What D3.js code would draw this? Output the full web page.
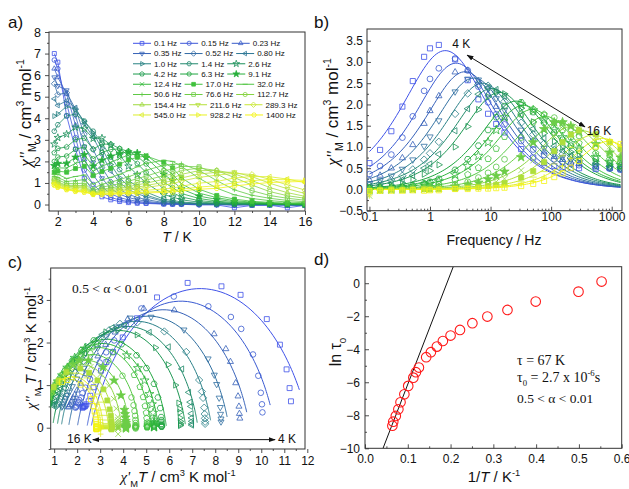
<!DOCTYPE html>
<html>
<head>
<meta charset="utf-8">
<script src="https://cdn.jsdelivr.net/npm/d3@7"></script>
<style>
  body { margin: 0; background: #fff; }
  svg text { font-family: "Liberation Sans", Arial, sans-serif; fill: #111; }
  svg text.serif { font-family: "Liberation Serif", "Times New Roman", serif; }
</style>
</head>
<body>
<svg width="629" height="489"></svg>
<script>
// ---------- data ----------
const freqs = [0.1, 0.15, 0.23, 0.35, 0.52, 0.80, 1.0, 1.4, 2.6, 4.2, 6.3, 9.1, 12.4, 17.0, 32.0, 50.6, 76.6, 112.7, 154.4, 211.6, 289.3, 545.0, 928.2, 1400];
const freqLabels = ["0.1 Hz", "0.15 Hz", "0.23 Hz", "0.35 Hz", "0.52 Hz", "0.80 Hz", "1.0 Hz", "1.4 Hz", "2.6 Hz",
  "4.2 Hz", "6.3 Hz", "9.1 Hz", "12.4 Hz", "17.0 Hz", "32.0 Hz", "50.6 Hz", "76.6 Hz", "112.7 Hz",
  "154.4 Hz", "211.6 Hz", "289.3 Hz", "545.0 Hz", "928.2 Hz", "1400 Hz"];
const temps = [1.8, 2, 2.5, 3, 3.5, 4, 4.5, 5, 5.5, 6, 6.5, 7, 8, 8.5, 9, 10, 11, 12, 13, 14, 15, 16];

// chi'' (cm3/mol), one row per temperature, one column per frequency
const chi2 = [
  [7.0, 6.7, 6.3, 5.9, 5.6, 4.9, 4.1, 3.4, 2.8, 2.4, 2.0, 1.8, 1.65, 1.5, 1.4, 1.3, 1.22, 1.15, 1.1, 1.05, 1.0, 0.97, 0.93, 0.9],
  [6.6, 6.3, 5.9, 5.5, 5.1, 4.6, 4.2, 3.7, 3.1, 2.6, 2.2, 1.9, 1.7, 1.55, 1.4, 1.25, 1.15, 1.05, 1.0, 0.95, 0.9, 0.85, 0.82, 0.8],
  [4.11, 4.68, 5.13, 5.30, 5.18, 4.81, 4.55, 4.11, 3.26, 2.67, 2.25, 1.91, 1.69, 1.50, 1.21, 1.07, 0.97, 0.89, 0.85, 0.81, 0.78, 0.73, 0.71, 0.69],
  [2.57, 3.10, 3.68, 4.13, 4.43, 4.49, 4.41, 4.19, 3.58, 3.01, 2.56, 2.19, 1.91, 1.67, 1.30, 1.11, 0.97, 0.89, 0.83, 0.80, 0.73, 0.66, 0.63, 0.61],
  [1.22, 1.60, 2.09, 2.69, 3.26, 3.75, 3.86, 3.87, 3.52, 3.08, 2.67, 2.31, 2.03, 1.78, 1.37, 1.15, 0.99, 0.88, 0.82, 0.76, 0.70, 0.64, 0.59, 0.57],
  [0.62, 0.93, 1.37, 1.95, 2.55, 3.12, 3.32, 3.40, 3.06, 2.57, 2.12, 1.78, 1.54, 1.34, 0.95, 0.75, 0.62, 0.55, 0.52, 0.50, 0.50, 0.48, 0.50, 0.47],
  [0.36, 0.55, 0.82, 1.22, 1.72, 2.32, 2.60, 2.85, 3.08, 2.80, 2.42, 2.05, 1.77, 1.53, 1.14, 0.94, 0.81, 0.71, 0.65, 0.60, 0.57, 0.52, 0.49, 0.47],
  [0.22, 0.33, 0.50, 0.74, 1.05, 1.55, 1.85, 2.20, 2.76, 2.80, 2.55, 2.24, 1.95, 1.68, 1.26, 1.04, 0.88, 0.77, 0.70, 0.64, 0.60, 0.54, 0.50, 0.48],
  [0.14, 0.21, 0.32, 0.48, 0.70, 1.02, 1.24, 1.62, 2.30, 2.60, 2.58, 2.37, 2.14, 1.87, 1.40, 1.15, 0.97, 0.84, 0.76, 0.69, 0.63, 0.56, 0.51, 0.49],
  [0.09, 0.14, 0.22, 0.32, 0.47, 0.70, 0.85, 1.12, 1.78, 2.26, 2.47, 2.44, 2.29, 2.07, 1.57, 1.29, 1.08, 0.93, 0.83, 0.74, 0.68, 0.58, 0.54, 0.51],
  [0.06, 0.09, 0.15, 0.23, 0.33, 0.50, 0.60, 0.83, 1.38, 1.90, 2.24, 2.39, 2.35, 2.19, 1.75, 1.43, 1.20, 1.02, 0.91, 0.80, 0.73, 0.62, 0.55, 0.52],
  [0.05, 0.07, 0.10, 0.15, 0.23, 0.36, 0.44, 0.58, 1.00, 1.48, 1.88, 2.18, 2.29, 2.25, 1.91, 1.59, 1.32, 1.13, 0.99, 0.88, 0.79, 0.66, 0.58, 0.54],
  [0.02, 0.03, 0.04, 0.06, 0.09, 0.14, 0.18, 0.25, 0.46, 0.71, 1.03, 1.40, 1.70, 1.96, 2.05, 1.82, 1.57, 1.34, 1.17, 1.03, 0.91, 0.72, 0.62, 0.56],
  [0.01, 0.02, 0.03, 0.05, 0.07, 0.11, 0.13, 0.19, 0.35, 0.55, 0.79, 1.11, 1.40, 1.70, 2.00, 1.86, 1.64, 1.41, 1.23, 1.09, 0.96, 0.76, 0.65, 0.58],
  [0.01, 0.01, 0.02, 0.03, 0.04, 0.06, 0.08, 0.12, 0.22, 0.35, 0.51, 0.72, 0.96, 1.24, 1.77, 1.89, 1.77, 1.58, 1.40, 1.23, 1.09, 0.85, 0.71, 0.63],
  [0.00, -0.02, 0.01, 0.01, 0.02, 0.04, 0.04, 0.06, 0.11, 0.18, 0.28, 0.39, 0.53, 0.71, 1.22, 1.58, 1.75, 1.69, 1.57, 1.42, 1.26, 0.99, 0.81, 0.71],
  [-0.02, 0.00, 0.00, 0.01, 0.01, 0.02, 0.03, 0.04, 0.07, 0.11, 0.16, 0.24, 0.32, 0.42, 0.76, 1.11, 1.42, 1.58, 1.58, 1.49, 1.36, 1.07, 0.87, 0.75],
  [-0.15, -0.03, 0.00, -0.02, 0.01, 0.01, 0.01, 0.02, 0.04, 0.06, 0.09, 0.13, 0.18, 0.25, 0.45, 0.68, 0.98, 1.25, 1.43, 1.50, 1.45, 1.23, 1.01, 0.86],
  [-0.04, -0.02, 0.00, -0.01, 0.00, 0.01, 0.00, 0.01, 0.02, 0.04, 0.06, 0.08, 0.11, 0.15, 0.28, 0.43, 0.64, 0.90, 1.11, 1.29, 1.39, 1.30, 1.11, 0.95],
  [-0.03, -0.02, -0.01, 0.00, -0.01, 0.00, 0.01, 0.01, 0.02, 0.02, 0.04, 0.05, 0.07, 0.10, 0.18, 0.29, 0.42, 0.60, 0.79, 0.99, 1.17, 1.29, 1.16, 1.02],
  [-0.15, -0.03, -0.02, -0.01, 0.00, -0.01, 0.00, 0.00, 0.01, 0.02, 0.02, 0.03, 0.05, 0.06, 0.12, 0.19, 0.29, 0.41, 0.55, 0.73, 0.91, 1.18, 1.15, 1.05],
  [-0.04, -0.03, -0.03, -0.03, -0.02, -0.03, -0.02, -0.02, 0.01, 0.01, 0.02, 0.02, 0.03, 0.04, 0.08, 0.13, 0.20, 0.29, 0.38, 0.51, 0.67, 1.01, 1.12, 1.07]
];

// temperatures shown in panels b and c (4 K .. 16 K)
const fitTemps = [4, 4.5, 5, 5.5, 6, 6.5, 7, 8, 8.5, 9, 10, 11, 12, 13, 14, 15, 16];

// chi' (cm3/mol) for the 4 K .. 16 K rows, one column per frequency
const chi1 = [
  [11.29, 11.23, 11.10, 10.81, 10.24, 9.10, 8.27, 6.80, 5.47, 4.60, 3.98, 3.56, 3.27, 3.04, 2.71, 2.57, 2.50, 2.40, 2.36, 2.33, 2.30, 2.25, 2.24, 2.23],
  [10.05, 10.03, 9.98, 9.87, 9.64, 9.13, 8.68, 7.70, 6.20, 4.79, 4.11, 3.61, 3.26, 2.98, 2.56, 2.36, 2.23, 2.18, 2.09, 2.05, 2.03, 1.98, 1.95, 1.93],
  [9.07, 9.05, 9.03, 8.99, 8.89, 8.66, 8.46, 7.95, 6.22, 4.89, 4.20, 3.65, 3.24, 2.90, 2.40, 2.15, 2.00, 1.89, 1.83, 1.77, 1.74, 1.68, 1.64, 1.62],
  [8.25, 8.25, 8.23, 8.22, 8.17, 8.06, 7.96, 7.69, 6.64, 5.21, 4.31, 3.71, 3.27, 2.89, 2.29, 1.99, 1.79, 1.66, 1.58, 1.51, 1.47, 1.40, 1.36, 1.33],
  [7.56, 7.56, 7.55, 7.54, 7.52, 7.47, 7.42, 7.30, 6.74, 5.79, 4.61, 3.86, 3.39, 2.96, 2.27, 1.91, 1.67, 1.49, 1.39, 1.31, 1.25, 1.16, 1.12, 1.09],
  [6.98, 6.98, 6.98, 6.97, 6.96, 6.94, 6.91, 6.85, 6.55, 5.97, 5.14, 4.06, 3.53, 3.09, 2.33, 1.91, 1.63, 1.43, 1.30, 1.21, 1.14, 1.03, 0.97, 0.94],
  [6.48, 6.48, 6.48, 6.48, 6.47, 6.46, 6.45, 6.41, 6.27, 5.95, 5.40, 4.60, 3.76, 3.24, 2.43, 1.96, 1.63, 1.39, 1.24, 1.12, 1.03, 0.90, 0.83, 0.79],
  [5.67, 5.67, 5.67, 5.67, 5.67, 5.66, 5.66, 5.65, 5.61, 5.51, 5.34, 5.01, 4.58, 3.93, 2.72, 2.19, 1.78, 1.47, 1.26, 1.09, 0.96, 0.78, 0.68, 0.64],
  [5.34, 5.34, 5.34, 5.34, 5.34, 5.34, 5.34, 5.33, 5.30, 5.25, 5.14, 4.93, 4.64, 4.16, 2.84, 2.33, 1.89, 1.57, 1.34, 1.17, 1.02, 0.81, 0.70, 0.65],
  [5.04, 5.04, 5.04, 5.04, 5.04, 5.04, 5.04, 5.04, 5.02, 5.00, 4.95, 4.87, 4.73, 4.48, 3.54, 2.66, 2.22, 1.84, 1.58, 1.35, 1.18, 0.92, 0.77, 0.70],
  [4.54, 4.54, 4.54, 4.54, 4.54, 4.54, 4.54, 4.54, 4.54, 4.53, 4.52, 4.49, 4.45, 4.36, 3.97, 3.35, 2.57, 2.16, 1.87, 1.60, 1.38, 1.03, 0.84, 0.74],
  [4.12, 4.12, 4.12, 4.12, 4.12, 4.12, 4.12, 4.12, 4.12, 4.12, 4.11, 4.10, 4.08, 4.05, 3.90, 3.60, 3.12, 2.49, 2.09, 1.82, 1.57, 1.16, 0.92, 0.79],
  [3.78, 3.78, 3.78, 3.78, 3.78, 3.78, 3.78, 3.78, 3.78, 3.78, 3.78, 3.77, 3.77, 3.76, 3.70, 3.59, 3.37, 3.00, 2.59, 2.06, 1.81, 1.35, 1.04, 0.87],
  [3.49, 3.49, 3.49, 3.49, 3.49, 3.49, 3.49, 3.49, 3.49, 3.49, 3.49, 3.49, 3.48, 3.48, 3.46, 3.41, 3.31, 3.14, 2.88, 2.52, 2.14, 1.53, 1.19, 0.98],
  [3.24, 3.24, 3.24, 3.24, 3.24, 3.24, 3.24, 3.24, 3.24, 3.24, 3.24, 3.24, 3.24, 3.23, 3.23, 3.20, 3.16, 3.08, 2.94, 2.73, 2.42, 1.69, 1.34, 1.11],
  [3.02, 3.02, 3.02, 3.02, 3.02, 3.02, 3.02, 3.02, 3.02, 3.02, 3.02, 3.02, 3.02, 3.02, 3.01, 3.00, 2.98, 2.94, 2.87, 2.75, 2.56, 1.89, 1.46, 1.22],
  [2.84, 2.84, 2.84, 2.84, 2.84, 2.84, 2.84, 2.84, 2.84, 2.84, 2.84, 2.84, 2.84, 2.84, 2.84, 2.83, 2.82, 2.80, 2.76, 2.70, 2.60, 2.15, 1.58, 1.34]
];

// generalized Debye fit parameters
const fitChiT = [12.1, 10.6, 9.5, 8.6, 7.85, 7.25, 6.72, 5.88, 5.53, 5.22, 4.70, 4.27, 3.92, 3.62, 3.36, 3.13, 2.94];
const fitChiS = [2.6, 2.42, 2.0, 1.62, 1.30, 1.12, 0.93, 0.69, 0.67, 0.67, 0.61, 0.57, 0.51, 0.49, 0.50, 0.49, 0.49];
const fitAlpha = [0.233, 0.20, 0.19, 0.18, 0.17, 0.16, 0.15, 0.14, 0.13, 0.12, 0.11, 0.10, 0.09, 0.08, 0.07, 0.06, 0.05];

// panel d: relaxation times
const invT = [0.553, 0.499, 0.399, 0.333, 0.286, 0.251, 0.222, 0.200, 0.182, 0.168, 0.154, 0.143, 0.126, 0.119, 0.113, 0.101, 0.092, 0.083, 0.078, 0.072, 0.066, 0.064];
const lnTau = [0.10, -0.51, -1.11, -1.62, -2.02, -2.42, -2.83, -3.17, -3.50, -3.84, -4.18, -4.48, -5.11, -5.39, -5.72, -6.22, -6.73, -7.21, -7.64, -8.04, -8.39, -8.63];
const uEff = 67;
const tau0 = 2.7e-6;

// ---------- helpers ----------
const svg = d3.select("svg");
const FONT = "Liberation Sans, Arial, sans-serif";

const palette = d3.scaleLinear()
  .domain([0, 0.15, 0.25, 0.35, 0.45, 0.55, 0.68, 0.8, 0.9, 1])
  .range(["#3f52e8", "#3464b0", "#2a8088", "#1a9058", "#1fa83a", "#3cbf3c", "#68cc48", "#a8dc3c", "#d8ec30", "#f4f414"])
  .interpolate(d3.interpolateRgb);

const symbolCycle = ["square", "circle", "up", "down", "diamond", "left", "right", "hexagon",
  "star", "pentagon", "circle", "starFill", "x", "squareFill", "dash", "plus"];

function poly(n, r, rot) {
  const pts = d3.range(n).map(k => {
    const a = (rot + k * 360 / n) * Math.PI / 180;
    return [(r * Math.cos(a)).toFixed(2), (r * Math.sin(a)).toFixed(2)];
  });
  return "M" + pts.map(p => p.join(",")).join("L") + "Z";
}

function symbolPath(kind, r) {
  switch (kind) {
    case "square": case "squareFill": return poly(4, r * 1.25, 45);
    case "circle": return d3.symbol(d3.symbolCircle, Math.PI * r * r)();
    case "up": return poly(3, r * 1.25, -90);
    case "down": return poly(3, r * 1.25, 90);
    case "left": return poly(3, r * 1.25, 180);
    case "right": return poly(3, r * 1.25, 0);
    case "diamond": return poly(4, r * 1.3, 0);
    case "hexagon": return poly(6, r * 1.1, 0);
    case "pentagon": return poly(5, r * 1.15, -90);
    case "star": case "starFill": return d3.symbol(d3.symbolStar, r * r * 3.2)();
    case "x": return `M${-r},${-r}L${r},${r}M${-r},${r}L${r},${-r}`;
    case "plus": return `M${-r},0L${r},0M0,${-r}L0,${r}`;
    case "dash": return `M${-r * 1.2},0L${r * 1.2},0`;
  }
}
const isFilled = k => k === "starFill" || k === "squareFill";

function markers(g, pts, kind, r, color, x, y) {
  g.append("g").selectAll("path").data(pts).join("path")
    .attr("d", symbolPath(kind, r))
    .attr("transform", d => `translate(${x(d[0])},${y(d[1])})`)
    .attr("fill", isFilled(kind) ? color : "none")
    .attr("stroke", color)
    .attr("stroke-width", 0.8);
}

// rich text: parts = [[text, kind]], kind "", "i", "g" (greek, serif italic), "sub", "sup"
function rich(sel, parts, fs) {
  let shift = 0;
  parts.forEach(([t, k]) => {
    const ts = sel.append("tspan").text(t);
    let target = 0;
    if (k === "sub") target = fs * 0.3;
    if (k === "sup") target = -fs * 0.42;
    if (target - shift !== 0) ts.attr("dy", target - shift);
    shift = target;
    if (k === "sub" || k === "sup") ts.attr("font-size", (fs * 0.62).toFixed(1));
    if (k === "i") ts.attr("font-style", "italic");
    if (k === "g") ts.attr("font-style", "italic").attr("font-family", "Liberation Serif, Times New Roman, serif");
  });
}

function addAxis(g, gen, scale, vals, fmt, size, pad, tr, fs) {
  g.append("g").attr("transform", tr)
    .call(gen(scale).tickValues(vals).tickFormat(fmt).tickSizeInner(size).tickSizeOuter(0).tickPadding(pad))
    .attr("font-family", FONT).attr("font-size", fs)
    .call(a => a.select(".domain").remove())
    .call(a => a.selectAll("line").attr("stroke", "#222").attr("stroke-width", 0.8));
}

function frame(x, y, o) {
  const g = svg.append("g");
  const [x0, x1] = x.range(), [y0, y1] = y.range();
  const s = o.tin ? -1 : 1;
  addAxis(g, d3.axisBottom, x, o.xMinor, "", 2 * s, 0, `translate(0,${y0})`, o.fs);
  addAxis(g, d3.axisBottom, x, o.xMajor, o.xFmt, 4 * s, o.xPad, `translate(0,${y0})`, o.fs);
  addAxis(g, d3.axisLeft, y, o.yMinor, "", 2 * s, 0, `translate(${x0},0)`, o.fs);
  addAxis(g, d3.axisLeft, y, o.yMajor, o.yFmt, 4 * s, o.yPad, `translate(${x0},0)`, o.fs);
  g.append("rect").attr("x", x0).attr("y", y1).attr("width", x1 - x0).attr("height", y0 - y1)
    .attr("fill", "none").attr("stroke", "#333").attr("stroke-width", 1);
  return g;
}

function clip(id, x, y) {
  const [x0, x1] = x.range(), [y0, y1] = y.range();
  svg.append("clipPath").attr("id", id).append("rect")
    .attr("x", x0).attr("y", y1).attr("width", x1 - x0).attr("height", y0 - y1);
  return svg.append("g").attr("clip-path", `url(#${id})`);
}

function label(x, y, txt, fs, anchor) {
  return svg.append("text").attr("x", x).attr("y", y).attr("font-size", fs)
    .attr("text-anchor", anchor || "start").text(txt);
}

// generalized Debye model used by the fitted curves
function debye(w, k) {
  const tau = Math.exp(lnTau[k + 5]);
  const a = fitAlpha[k], d = fitChiT[k] - fitChiS[k];
  const r = Math.pow(w * tau, 1 - a), s = Math.sin(a * Math.PI / 2), c = Math.cos(a * Math.PI / 2);
  const den = 1 + 2 * r * s + r * r;
  return [fitChiS[k] + d * (1 + r * s) / den, d * r * c / den];
}
const fitFreqs = d3.range(0, 121).map(i => 0.1 * Math.pow(14000, i / 120));

const defs = svg.append("defs");
defs.append("marker").attr("id", "ah").attr("viewBox", "0 0 10 10").attr("refX", 9).attr("refY", 5)
  .attr("markerWidth", 7).attr("markerHeight", 7).attr("orient", "auto-start-reverse")
  .append("path").attr("d", "M0,1.5L10,5L0,8.5Z").attr("fill", "#111");

// ---------- panel a ----------
const xA = d3.scaleLinear().domain([1.5, 16]).range([49, 305]);
const yA = d3.scaleLinear().domain([-0.3, 8]).range([211, 32]);
frame(xA, yA, {
  xMajor: d3.range(2, 17, 2), xMinor: d3.range(3, 16, 2), xFmt: d3.format("d"), xPad: 2,
  yMajor: d3.range(0, 9), yMinor: d3.range(0.5, 8, 1), yFmt: d3.format("d"), yPad: 4, fs: 12.5, tin: false
});
const gA = clip("clipA", xA, yA);
freqs.forEach((f, j) => {
  const col = palette(j / (freqs.length - 1));
  const pts = temps.map((t, i) => [t, chi2[i][j]]);
  gA.append("path").attr("d", d3.line().x(d => xA(d[0])).y(d => yA(d[1]))(pts))
    .attr("fill", "none").attr("stroke", col).attr("stroke-width", 0.8);
  markers(gA, pts, symbolCycle[j % 16], 2.3, col, xA, yA);
});

// legend (flowing rows of three)
{
  const g = svg.append("g");
  for (let row = 0; row < 8; row++) {
    let x = 133;
    const y = 43.3 + row * 10.24;
    for (let c = 0; c < 3; c++) {
      const j = row * 3 + c;
      const col = palette(j / (freqs.length - 1));
      g.append("line").attr("x1", x).attr("x2", x + 18).attr("y1", y).attr("y2", y)
        .attr("stroke", col).attr("stroke-width", 1);
      markers(g, [[x + 9, y]], symbolCycle[j % 16], 2.1, col, d => d, d => d);
      const t = g.append("text").attr("x", x + 21).attr("y", y + 2.9).attr("font-size", 8).text(freqLabels[j]);
      x += 21 + t.node().getComputedTextLength() + 3;
    }
  }
}
label(8, 28, "a)", 17);
rich(svg.append("text").attr("transform", "translate(31,113) rotate(-90)").attr("text-anchor", "middle").attr("font-size", 17),
  [["χ''", "g"], ["M", "sub"], [" / cm", ""], ["3", "sup"], [" mol", ""], ["-1", "sup"]], 17);
rich(svg.append("text").attr("x", 177).attr("y", 242).attr("text-anchor", "middle").attr("font-size", 14),
  [["T", "i"], [" / K", ""]], 14);

// ---------- panel b ----------
const xB = d3.scaleLog().domain([0.0912, 1480]).range([367, 622]);
const yB = d3.scaleLinear().domain([-0.5, 3.775]).range([210.7, 29]);
const logMinor = [0.1, 1, 10, 100].flatMap(d => d3.range(2, 10).map(m => m * d));
frame(xB, yB, {
  xMajor: [0.1, 1, 10, 100, 1000], xMinor: logMinor, xFmt: d => d < 1 ? "0.1" : d3.format("d")(d), xPad: 2,
  yMajor: d3.range(-0.5, 3.6, 0.5), yMinor: d3.range(-0.25, 3.7, 0.5), yFmt: d3.format(".1f"), yPad: 4, fs: 12, tin: true
});
const gB = clip("clipB", xB, yB);
fitTemps.forEach((T, k) => {
  const col = palette(k / (fitTemps.length - 1));
  const curve = fitFreqs.map(f => [f, debye(2 * Math.PI * f, k)[1]]);
  gB.append("path").attr("d", d3.line().x(d => xB(d[0])).y(d => yB(d[1]))(curve))
    .attr("fill", "none").attr("stroke", col).attr("stroke-width", 1);
});
fitTemps.forEach((T, k) => {
  const col = palette(k / (fitTemps.length - 1));
  markers(gB, freqs.map((f, j) => [f, chi2[k + 5][j]]), symbolCycle[k % 16], 2.9, col, xB, yB);
});
svg.append("line").attr("x1", xB(4.1)).attr("y1", yB(3.16)).attr("x2", xB(363)).attr("y2", yB(1.47))
  .attr("stroke", "#111").attr("stroke-width", 1)
  .attr("marker-start", "url(#ah)").attr("marker-end", "url(#ah)");
label(xB(2.32), yB(3.33), "4 K", 12);
label(xB(386), yB(1.28), "16 K", 12);
label(314, 28, "b)", 17);
rich(svg.append("text").attr("transform", "translate(338,112) rotate(-90)").attr("text-anchor", "middle").attr("font-size", 17),
  [["χ''", "g"], ["M", "sub"], [" / cm", ""], ["3", "sup"], [" mol", ""], ["-1", "sup"]], 17);
label(494, 245, "Frequency / Hz", 14, "middle");

// ---------- panel c ----------
const xC = d3.scaleLinear().domain([0.85, 11.9]).range([50.7, 305]);
const yC = d3.scaleLinear().domain([-0.5, 3.75]).range([449, 268]);
frame(xC, yC, {
  xMajor: d3.range(1, 13), xMinor: d3.range(1.5, 12, 1), xFmt: d3.format("d"), xPad: 3,
  yMajor: d3.range(0, 4), yMinor: d3.range(0.5, 3.6, 1).concat([-0.5]), yFmt: d3.format("d"), yPad: 3, fs: 12, tin: false
});
const gC = clip("clipC", xC, yC);
fitTemps.forEach((T, k) => {
  const col = palette(k / (fitTemps.length - 1));
  const arc = fitFreqs.map(f => debye(2 * Math.PI * f, k));
  gC.append("path").attr("d", d3.line().x(d => xC(d[0])).y(d => yC(d[1]))(arc))
    .attr("fill", "none").attr("stroke", col).attr("stroke-width", 1);
});
fitTemps.forEach((T, k) => {
  const col = palette(k / (fitTemps.length - 1));
  markers(gC, freqs.map((f, j) => [chi1[k][j], chi2[k + 5][j]]), symbolCycle[k % 16], 2.8, col, xC, yC);
});
svg.append("text").attr("class", "serif").attr("x", xC(1.78)).attr("y", yC(3.16)).attr("font-size", 13.5)
  .text("0.5 < α < 0.01");
svg.append("line").attr("x1", xC(2.68)).attr("y1", yC(-0.28)).attr("x2", xC(10.6)).attr("y2", yC(-0.28))
  .attr("stroke", "#111").attr("stroke-width", 1)
  .attr("marker-start", "url(#ah)").attr("marker-end", "url(#ah)");
label(xC(1.56), yC(-0.36), "16 K", 12);
label(xC(10.73), yC(-0.36), "4 K", 12);
label(8, 268, "c)", 17);
rich(svg.append("text").attr("transform", "translate(36,348) rotate(-90)").attr("text-anchor", "middle").attr("font-size", 15),
  [["χ''", "g"], ["M", "sub"], [" ", ""], ["T", "i"], [" / cm", ""], ["3", "sup"], [" K mol", ""], ["-1", "sup"]], 15);
rich(svg.append("text").attr("x", 178).attr("y", 482).attr("text-anchor", "middle").attr("font-size", 15),
  [["χ'", "g"], ["M", "sub"], ["T", "i"], [" / cm", ""], ["3", "sup"], [" K mol", ""], ["-1", "sup"]], 15);

// ---------- panel d ----------
const xD = d3.scaleLinear().domain([0, 0.6]).range([365, 621.7]);
const yD = d3.scaleLinear().domain([-10, 1]).range([448.3, 266.7]);
frame(xD, yD, {
  xMajor: d3.range(0, 0.61, 0.1), xMinor: d3.range(0.05, 0.6, 0.1), xFmt: d3.format(".1f"), xPad: 6,
  yMajor: d3.range(-10, 1, 2), yMinor: d3.range(-9, 1, 2), yFmt: d3.format("d"), yPad: 5, fs: 12, tin: true
});
const gD = clip("clipD", xD, yD);
const lnTau0 = Math.log(tau0);
gD.append("line")
  .attr("x1", xD((-10 - lnTau0) / uEff)).attr("y1", yD(-10))
  .attr("x2", xD((1 - lnTau0) / uEff)).attr("y2", yD(1))
  .attr("stroke", "#111").attr("stroke-width", 1);
gD.selectAll("circle").data(invT.map((v, i) => [v, lnTau[i]])).join("circle")
  .attr("cx", d => xD(d[0])).attr("cy", d => yD(d[1])).attr("r", 4.8)
  .attr("fill", "none").attr("stroke", "#ff1a1a").attr("stroke-width", 1.1);
svg.append("text").attr("class", "serif").attr("x", 517).attr("y", 365).attr("font-size", 14).text("τ = 67 K");
rich(svg.append("text").attr("class", "serif").attr("x", 517).attr("y", 382).attr("font-size", 14),
  [["τ", ""], ["0", "sub"], [" = 2.7 x 10", ""], ["-6", "sup"], ["s", ""]], 14);
svg.append("text").attr("class", "serif").attr("x", 517).attr("y", 403).attr("font-size", 13.5).text("0.5 < α < 0.01");
label(314, 265, "d)", 17);
rich(svg.append("text").attr("transform", "translate(341,352) rotate(-90)").attr("text-anchor", "middle").attr("font-size", 16),
  [["ln τ", ""], ["0", "sub"]], 16);
rich(svg.append("text").attr("x", 494).attr("y", 482).attr("text-anchor", "middle").attr("font-size", 15),
  [["1/", ""], ["T", "i"], [" / K", ""], ["-1", "sup"]], 15);
</script>
</body>
</html>
